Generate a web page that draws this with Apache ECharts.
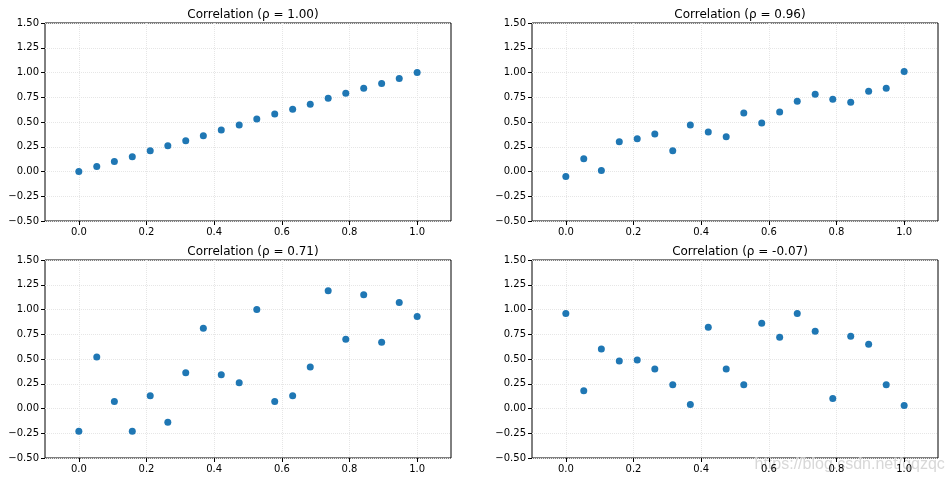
<!DOCTYPE html>
<html>
<head>
<meta charset="utf-8">
<script src="https://cdn.jsdelivr.net/npm/echarts@6/dist/echarts.min.js"></script>
<style>
html,body{margin:0;padding:0;background:#fff;}
#main{width:948px;height:482px;}
</style>
</head>
<body>
<div id="main"></div>
<script>
// Data
const xValues = [0, 0.053, 0.105, 0.158, 0.211, 0.263, 0.316, 0.368, 0.421, 0.474,
                 0.526, 0.579, 0.632, 0.684, 0.737, 0.789, 0.842, 0.895, 0.947, 1.0];
const yCorr100 = [0, 0.05, 0.10, 0.15, 0.21, 0.26, 0.31, 0.36, 0.42, 0.47,
                  0.53, 0.58, 0.63, 0.68, 0.74, 0.79, 0.84, 0.89, 0.94, 1.00];
const yCorr096 = [-0.05, 0.13, 0.01, 0.30, 0.33, 0.38, 0.21, 0.47, 0.40, 0.35,
                  0.59, 0.49, 0.60, 0.71, 0.78, 0.73, 0.70, 0.81, 0.84, 1.01];
const yCorr071 = [-0.23, 0.52, 0.07, -0.23, 0.13, -0.14, 0.36, 0.81, 0.34, 0.26,
                  1.00, 0.07, 0.13, 0.42, 1.19, 0.70, 1.15, 0.67, 1.07, 0.93];
const yCorrNeg007 = [0.96, 0.18, 0.60, 0.48, 0.49, 0.40, 0.24, 0.04, 0.82, 0.40,
                     0.24, 0.86, 0.72, 0.96, 0.78, 0.10, 0.73, 0.65, 0.24, 0.03];
const titles = ['Correlation (ρ = 1.00)', 'Correlation (ρ = 0.96)', 'Correlation (ρ = 0.71)', 'Correlation (ρ = -0.07)'];
const xTicks = [0, 0.2, 0.4, 0.6, 0.8, 1.0];
const seriesY = [yCorr100, yCorr096, yCorr071, yCorrNeg007];

const grids = [
  {left: 45, top: 23, width: 406, height: 198},
  {left: 532, top: 23, width: 406, height: 198},
  {left: 45, top: 260, width: 406, height: 198},
  {left: 532, top: 260, width: 406, height: 198}
];
const font = 'DejaVu Sans';
const color = '#1f77b4';

function fmtY(v){
  const s = Math.abs(v).toFixed(2);
  return v < 0 ? '\u2212' + s : s;
}

const option = {
  backgroundColor: '#fff',
  animation: false,
  title: grids.map((g, i) => ({
    text: titles[i],
    left: g.left + g.width / 2,
    top: g.top - 19,
    textAlign: 'center',
    textStyle: {fontFamily: font, fontSize: 12, fontWeight: 'normal', color: '#000'}
  })),
  grid: grids.map(g => Object.assign({show: true, borderColor: '#000', borderWidth: 1, backgroundColor: 'transparent'}, g)),
  xAxis: grids.map((g, i) => ({
    type: 'value', gridIndex: i, min: -0.1, max: 1.1,
    axisLine: {show: false, onZero: false},
    axisTick: {show: true, length: 4, lineStyle: {color: '#000'}, customValues: xTicks},
    axisLabel: {customValues: xTicks, fontFamily: font, fontSize: 10, color: '#000', margin: 6,
                formatter: v => v.toFixed(1)},
    splitLine: {show: true, lineStyle: {color: '#e6e6e6', type: 'dotted', width: 1}}
  })),
  yAxis: grids.map((g, i) => ({
    type: 'value', gridIndex: i, min: -0.5, max: 1.5, interval: 0.25,
    axisLine: {show: false, onZero: false},
    axisTick: {show: true, length: 4, lineStyle: {color: '#000'}},
    axisLabel: {fontFamily: font, fontSize: 10, color: '#000', margin: 6, formatter: fmtY},
    splitLine: {show: true, lineStyle: {color: '#e6e6e6', type: 'dotted', width: 1}}
  })),
  series: seriesY.map((ys, i) => ({
    type: 'scatter', xAxisIndex: i, yAxisIndex: i,
    symbolSize: 7,
    itemStyle: {color: color, opacity: 1},
    data: xValues.map((x, j) => [x, ys[j]])
  })),
  graphic: [{
    type: 'text', left: 754, top: 456,
    style: {text: 'https://blog.csdn.net/qqzqc', fontFamily: 'Liberation Sans, Arial', fontSize: 16,
            fill: 'rgba(200,200,200,0.7)', stroke: 'rgba(255,255,255,0.5)', lineWidth: 1}
  }]
};

echarts.init(document.getElementById('main')).setOption(option);
</script>
</body>
</html>
